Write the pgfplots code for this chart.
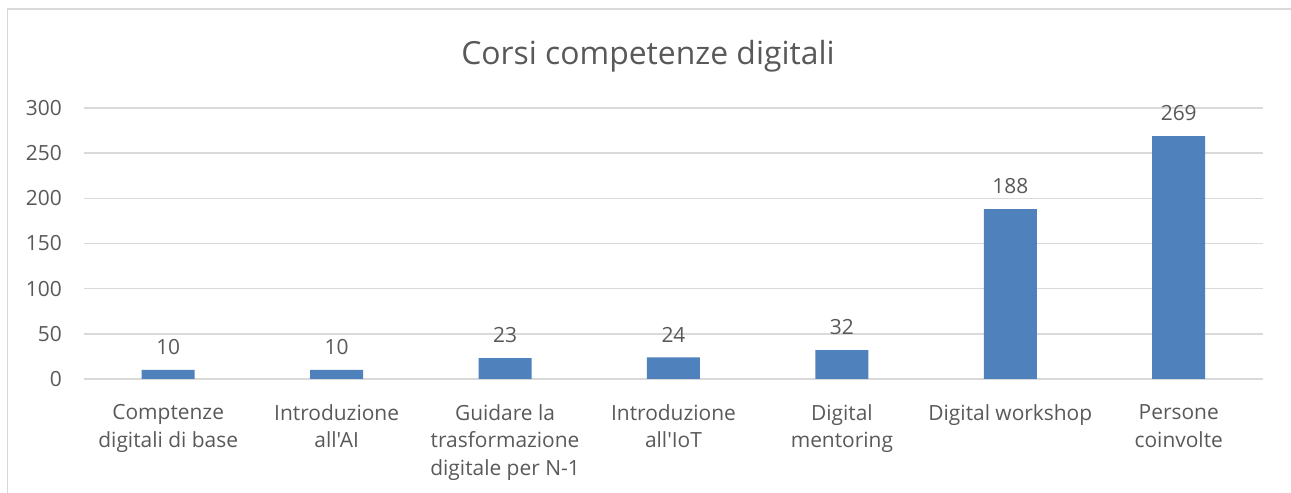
\documentclass[border=0pt]{standalone}
\usepackage{fontspec}
\setmainfont{Open Sans}[Ligatures=TeXOff]
\usepackage{pgfplots}
\pgfplotsset{compat=1.18}

\definecolor{barblue}{HTML}{4F81BD}
\definecolor{txtgray}{HTML}{595959}
\definecolor{gridgray}{HTML}{D9D9D9}

\begin{document}
\begin{tikzpicture}
\path[use as bounding box, fill=white] (0,0) rectangle (1291bp,493bp);
\draw[gridgray, line width=1.5bp] (7.5bp,0) -- (7.5bp,484bp) -- (1291bp,484bp);
\node[text=txtgray, font=\fontsize{32}{38}\selectfont] at (648bp,437bp) {Corsi competenze digitali};
\begin{axis}[
  at={(84bp,114bp)}, anchor=south west,
  scale only axis, width=1179bp, height=271bp,
  xmin=-0.5, xmax=6.5, ymin=0, ymax=300,
  axis line style={draw=none},
  ytick={0,50,...,300},
  ymajorgrids, grid style={gridgray, line width=1.5bp},
  major tick length=0pt,
  xtick={0,...,6},
  xticklabels={{Comptenze\\digitali di base},{Introduzione\\all'AI},{Guidare la\\trasformazione\\digitale per N-1},{Introduzione\\all'IoT},{Digital\\mentoring},{Digital workshop},{Persone\\coinvolte}},
  xticklabel style={align=center, text=txtgray, font=\fontsize{21}{28}\selectfont, anchor=north, inner sep=0pt, yshift=-25bp},
  yticklabel style={text=txtgray, font=\fontsize{21}{28}\selectfont, anchor=east, inner sep=0pt, xshift=-22bp},
  /pgf/number format/assume math mode=true,
  ybar, bar width=53bp,
  nodes near coords,
  every node near coord/.append style={text=txtgray, font=\fontsize{21}{28}\selectfont, anchor=south, inner sep=0pt, yshift=15bp},
]
\addplot[fill=barblue, draw=none] coordinates {(0,10) (1,10) (2,23) (3,24) (4,32) (5,188) (6,269)};
\end{axis}
\end{tikzpicture}
\end{document}
